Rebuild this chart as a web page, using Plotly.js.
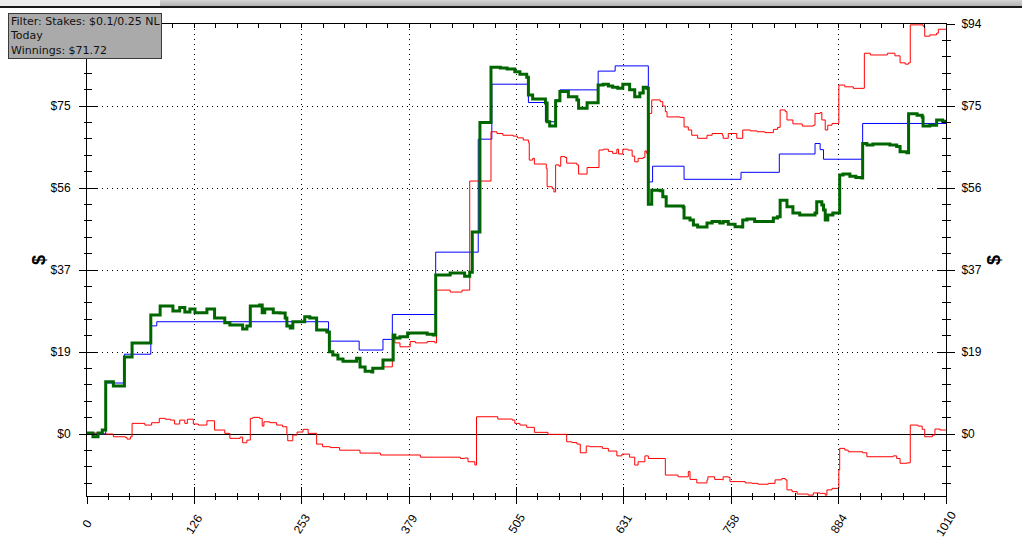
<!DOCTYPE html>
<html><head><meta charset="utf-8">
<script src="https://cdn.plot.ly/plotly-3.0.1.min.js"></script>
<style>
html,body{margin:0;padding:0;background:#fff;overflow:hidden}
#chart{width:1022px;height:553px}
#bar{position:absolute;left:0;top:0;width:1022px;height:6px;background:linear-gradient(#d4d4d4,#b4b4b4);border-bottom:2px solid #1a1a1a;z-index:5}
#tab{position:absolute;left:0;top:0;width:160px;height:6px;background:#ededed;z-index:6}
</style></head>
<body>
<div id="chart"></div><div id="bar"></div><div id="tab"></div>
<script>
// ---- data: hand number vs cumulative winnings ($) ----
const netHands = [0,7,13,18,22,31,44,53,75,86,101,109,115,121,127,141,150,162,168,183,188,192,203,206,209,219,227,233,235,239,242,256,262,270,282,285,289,295,301,317,321,327,335,336,348,360,362,368,377,400,407,410,427,444,450,453,462,475,486,494,503,509,517,519,524,539,541,544,551,556,566,576,578,588,601,607,613,618,624,630,638,644,650,654,658,660,664,674,677,681,701,702,709,713,718,729,735,744,748,754,762,770,771,776,785,807,812,815,823,830,838,856,858,864,866,868,871,877,885,889,897,904,911,912,917,924,944,952,956,964,966,976,982,983,991,999,1006,1010];
const netWon = [0.23,-0.62,0.23,0.92,12.0,11.0,17.65,20.86,27.28,29.34,28.2,29.0,27.97,28.66,27.8,28.66,26.6,25.5,25.0,24.07,24.76,29.34,29.57,27.8,28.66,27.8,27.74,26.6,24.76,24.3,25.75,26.9,26.6,23.84,23.4,18.87,18.1,17.2,16.7,17.4,15.4,14.4,14.2,15.1,17.0,22.7,22.0,22.3,23.15,22.9,22.7,36.45,36.9,36.2,37.1,46.3,71.4,84.1,83.9,83.7,83.05,82.5,81.8,77.7,76.8,75.9,71.6,70.6,76.4,78.5,77.3,76.6,74.7,75.95,80.0,80.2,79.8,79.5,79.3,80.2,78.9,77.3,78.2,79.5,79.3,52.7,55.9,55.8,54.4,52.3,52.0,49.5,49.06,47.9,47.45,48.4,48.7,48.4,48.7,48.1,47.5,47.45,49.06,49.3,48.7,49.5,49.8,53.6,52.1,50.7,50.2,50.7,53.25,52.5,51.35,49.06,50.2,50.7,59.4,59.6,59.1,58.8,58.7,66.6,66.25,66.5,66.25,65.9,64.7,64.5,73.4,73.1,72.7,70.6,70.8,72.0,71.72,71.72];

const sdHands = [0,7,13,18,22,31,44,53,75,86,101,109,115,121,127,141,150,162,168,183,188,192,203,206,209,219,227,233,235,239,242,256,262,270,282,285,289,295,301,317,321,327,335,336,348,359,362,368,380,386,400,409,411,427,441,450,475,482,489,501,506,513,519,520,524,526,540,541,547,549,551,555,557,562,564,576,578,588,602,607,613,618,623,625,630,636,641,644,648,654,656,658,661,664,674,677,680,682,697,702,707,711,718,729,735,747,748,754,764,771,780,788,797,807,812,815,821,823,830,841,854,856,862,864,868,871,876,884,891,901,914,921,941,950,956,962,966,968,983,985,991,999,1001,1010];
const sdWon = [0.23,-0.62,0.23,0.92,12.0,11.0,17.65,20.86,27.28,29.34,28.2,29.0,27.97,28.66,27.8,28.66,26.6,25.5,25.0,24.07,24.76,29.34,29.57,27.8,28.66,27.8,27.74,26.6,24.76,24.3,25.75,26.9,26.6,23.84,23.4,18.87,18.1,17.2,16.7,17.4,15.4,14.4,14.2,15.1,15.4,21.7,20.9,20.0,21.2,20.9,21.2,20.9,33.0,32.55,33.0,58.0,69.3,68.9,68.5,68.3,67.9,67.4,66.8,62.8,63.2,61.9,60.9,56.7,56.3,55.5,61.7,61.4,63.6,63.4,62.1,61.7,59.6,61.1,65.1,65.3,64.8,64.35,65.3,64.2,65.3,65.1,63.7,62.4,63.2,63.4,64.9,64.35,73.5,76.6,76.2,75.2,73.9,72.7,72.6,70.4,69.7,68.5,67.8,68.5,68.9,68.5,67.8,68.9,67.8,69.7,69.5,69.3,69.1,69.85,70.3,74.3,73.9,72.0,71.1,70.6,70.8,73.5,73.7,72.0,69.7,70.8,71.2,80.0,79.6,79.25,87.3,86.9,87.3,86.7,85.1,84.8,85.1,93.8,93.5,91.2,91.5,91.9,92.8,92.8];

const nsdHands = [0,19,31,45,47,51,53,68,76,85,92,98,103,109,115,118,125,131,141,150,162,168,180,183,188,192,195,203,206,208,215,223,230,235,236,242,247,254,260,270,277,286,297,321,345,368,392,415,439,444,448,456,458,483,500,503,509,517,526,542,564,570,576,580,587,591,606,613,623,629,638,644,648,656,660,680,695,707,709,717,729,730,738,747,748,754,756,774,782,789,801,809,817,821,823,829,835,848,854,862,868,870,876,884,885,891,895,912,917,948,952,956,964,968,977,982,985,994,997,1003,1010];
const nsdWon = [0.23,0,-0.62,-0.76,-1.15,-0.62,2.45,2.06,2.6,3.6,3.4,3.2,2.3,3.2,2.45,3.4,2.3,2.06,3.05,0.92,0.16,-0.99,-0.69,-2.0,-1.38,3.6,3.83,3.6,1.83,2.8,2.6,2.06,1.67,-0.23,-1.54,-0.23,0.46,1.08,0.16,-2.3,-2.9,-3.1,-3.7,-4.36,-4.8,-4.8,-5.3,-5.3,-5.6,-5.5,-6.35,-7.1,3.97,3.44,3.2,2.45,2.06,1.54,0.39,-0.07,-1.77,-1.95,-2.3,-4.3,-2.75,-2.9,-3.28,-3.9,-5.0,-4.6,-5.3,-7.1,-6.35,-5.0,-5.6,-9.4,-9.8,-8.6,-10.4,-11.2,-10.5,-9.8,-10.4,-10.5,-9.8,-9.9,-10.9,-11.2,-11.3,-11.5,-11.3,-10.5,-10.2,-10.5,-12.8,-13.2,-13.75,-14.0,-13.5,-13.6,-14.0,-12.8,-12.45,-8.25,-3.28,-3.67,-4.06,-4.3,-5.2,-5.0,-5.6,-6.7,-6.6,2.06,1.83,1.08,-0.62,-0.23,1.15,0.92,0.92];

const evHands = [0,22,44,75,82,284,320,348,359,410,460,476,519,539,551,556,601,621,660,665,702,769,814,856,862,866,912,1010];
const evWon = [0,11.7,18.3,24.8,25.75,21.3,19.26,21.7,27.4,41.7,67.6,80.2,76.0,71.6,76.6,78.9,83.2,84.4,57.8,61.4,58.4,60.0,64.2,66.6,65.2,63.0,71.2,71.2];

const xTickVals = [0,126.25,252.5,378.75,505,631.25,757.5,883.75,1010];
const xTickText = ['0','126','253','379','505','631','758','884','1010'];
const yTickVals = [0,18.8,37.6,56.4,75.2,94];
const yTickText = ['$0','$19','$37','$56','$75','$94'];
const yTickTextLeft = ['$0','$19','$37','$56','$75',''];   // top-left label sits under the info box
const infoLines = ['Filter: Stakes: $0.1/0.25 NL','Today','Winnings: $71.72'];

// ---- chart ----
const FONT = '"Liberation Sans", Arial, sans-serif';
const xRange = [0, 1010];
const yRange = [-14.2, 94];
const DOT = '1px,4px';

function stepLine(x, y, color, width) {
  return {x: x, y: y, type: 'scatter', mode: 'lines',
          line: {shape: 'hv', color: color, width: width}, hoverinfo: 'skip'};
}
const traces = [
  stepLine(nsdHands, nsdWon, '#ff0000', 1),
  stepLine(evHands, evWon, '#0000ff', 1),
  stepLine(sdHands, sdWon, '#ff0000', 1),
  stepLine(netHands, netWon, '#006600', 3),
  {x: [], y: [], xaxis: 'x2', yaxis: 'y2', type: 'scatter', mode: 'lines'},
  {x: [], y: [], xaxis: 'x3', yaxis: 'y3', type: 'scatter', mode: 'lines'},
  {x: [], y: [], xaxis: 'x3', yaxis: 'y4', type: 'scatter', mode: 'lines'}
];

const base = {fixedrange: true, zeroline: false, showgrid: false, tickcolor: '#000', tickwidth: 1};
const xMinor = (t, len) => ({ticks: t, ticklen: len, tickcolor: '#000', tickwidth: 1, tick0: 0, dtick: 25.25, showgrid: false});
const yMinor = (t, len) => ({ticks: t, ticklen: len, tickcolor: '#000', tickwidth: 1, tick0: 0, dtick: 3.76, showgrid: false});

const annotations = [];
xTickVals.forEach((v, i) => annotations.push({
  x: v, xref: 'x', y: 0, yref: 'paper', yshift: -28, text: xTickText[i],
  textangle: -58, showarrow: false, xanchor: 'center', yanchor: 'middle',
  font: {family: FONT, size: 12, color: '#000'}
}));
annotations.push({x: 0, xref: 'paper', xshift: -60, y: 0.5, yref: 'paper', text: '<b>$</b>',
  textangle: -90, showarrow: false, font: {family: FONT, size: 18, color: '#000'}});
annotations.push({x: 1, xref: 'paper', xshift: 60, y: 0.5, yref: 'paper', text: '<b>$</b>',
  textangle: -90, showarrow: false, font: {family: FONT, size: 18, color: '#000'}});
annotations.push({x: 0, xref: 'paper', xanchor: 'left', xshift: -79, y: 1, yref: 'paper',
  yanchor: 'top', yshift: 11, text: infoLines.join('<br>'), align: 'left', showarrow: false,
  bgcolor: '#aaaaaa', bordercolor: '#3a3a3a', borderwidth: 1, borderpad: 1,
  font: {family: '"DejaVu Sans", Verdana, sans-serif', size: 11, color: '#111'}});

const layout = {
  width: 1022, height: 553,
  margin: {l: 87, r: 76, t: 24, b: 57, pad: 0, autoexpand: false},
  paper_bgcolor: '#ffffff', plot_bgcolor: '#ffffff',
  showlegend: false,
  font: {family: FONT, size: 12, color: '#000'},
  xaxis: Object.assign({}, base, {
    range: xRange, tickmode: 'array', tickvals: xTickVals, showticklabels: false,
    ticks: 'outside', ticklen: 7, showline: true, linecolor: '#000', linewidth: 1,
    showgrid: true, gridcolor: '#000', gridwidth: 1, griddash: DOT,
    minor: xMinor('outside', 3)
  }),
  yaxis: Object.assign({}, base, {
    range: yRange, tickmode: 'array', tickvals: yTickVals, ticktext: yTickTextLeft,
    ticks: 'outside', ticklen: 7, showline: true, linecolor: '#000', linewidth: 1,
    showgrid: true, gridcolor: '#000', gridwidth: 1, griddash: DOT,
    zeroline: true, zerolinecolor: '#000', zerolinewidth: 1,
    tickfont: {family: FONT, size: 12, color: '#000'}, ticklabelstandoff: 6,
    minor: yMinor('outside', 2)
  }),
  xaxis2: Object.assign({}, base, {
    overlaying: 'x', anchor: 'y2', side: 'bottom', range: xRange, tickmode: 'array', tickvals: xTickVals,
    showticklabels: false, ticks: 'inside', ticklen: 9, showline: false,
    minor: xMinor('inside', 3)
  }),
  yaxis2: Object.assign({}, base, {
    overlaying: 'y', anchor: 'x2', side: 'left', range: yRange, tickmode: 'array', tickvals: yTickVals,
    showticklabels: false, ticks: 'inside', ticklen: 10, showline: false,
    minor: yMinor('inside', 5)
  }),
  xaxis3: Object.assign({}, base, {
    overlaying: 'x', anchor: 'y3', side: 'top', range: xRange, tickmode: 'array', tickvals: xTickVals,
    showticklabels: false, ticks: 'inside', ticklen: 4, showline: true, linecolor: '#000', linewidth: 1,
    minor: xMinor('inside', 4)
  }),
  yaxis3: Object.assign({}, base, {
    overlaying: 'y', anchor: 'x3', side: 'right', range: yRange, tickmode: 'array', tickvals: yTickVals,
    ticktext: yTickText, ticks: 'outside', ticklen: 8, showline: true, linecolor: '#000', linewidth: 1,
    tickfont: {family: FONT, size: 12, color: '#000'}, ticklabelstandoff: 4,
    minor: yMinor('outside', 4)
  }),
  yaxis4: Object.assign({}, base, {
    overlaying: 'y', anchor: 'x3', side: 'right', range: yRange, tickmode: 'array', tickvals: yTickVals,
    showticklabels: false, ticks: 'inside', ticklen: 8, showline: false,
    minor: yMinor('inside', 4)
  }),
  annotations: annotations
};

Plotly.newPlot('chart', traces, layout, {staticPlot: true, displayModeBar: false});
</script>
</body></html>
